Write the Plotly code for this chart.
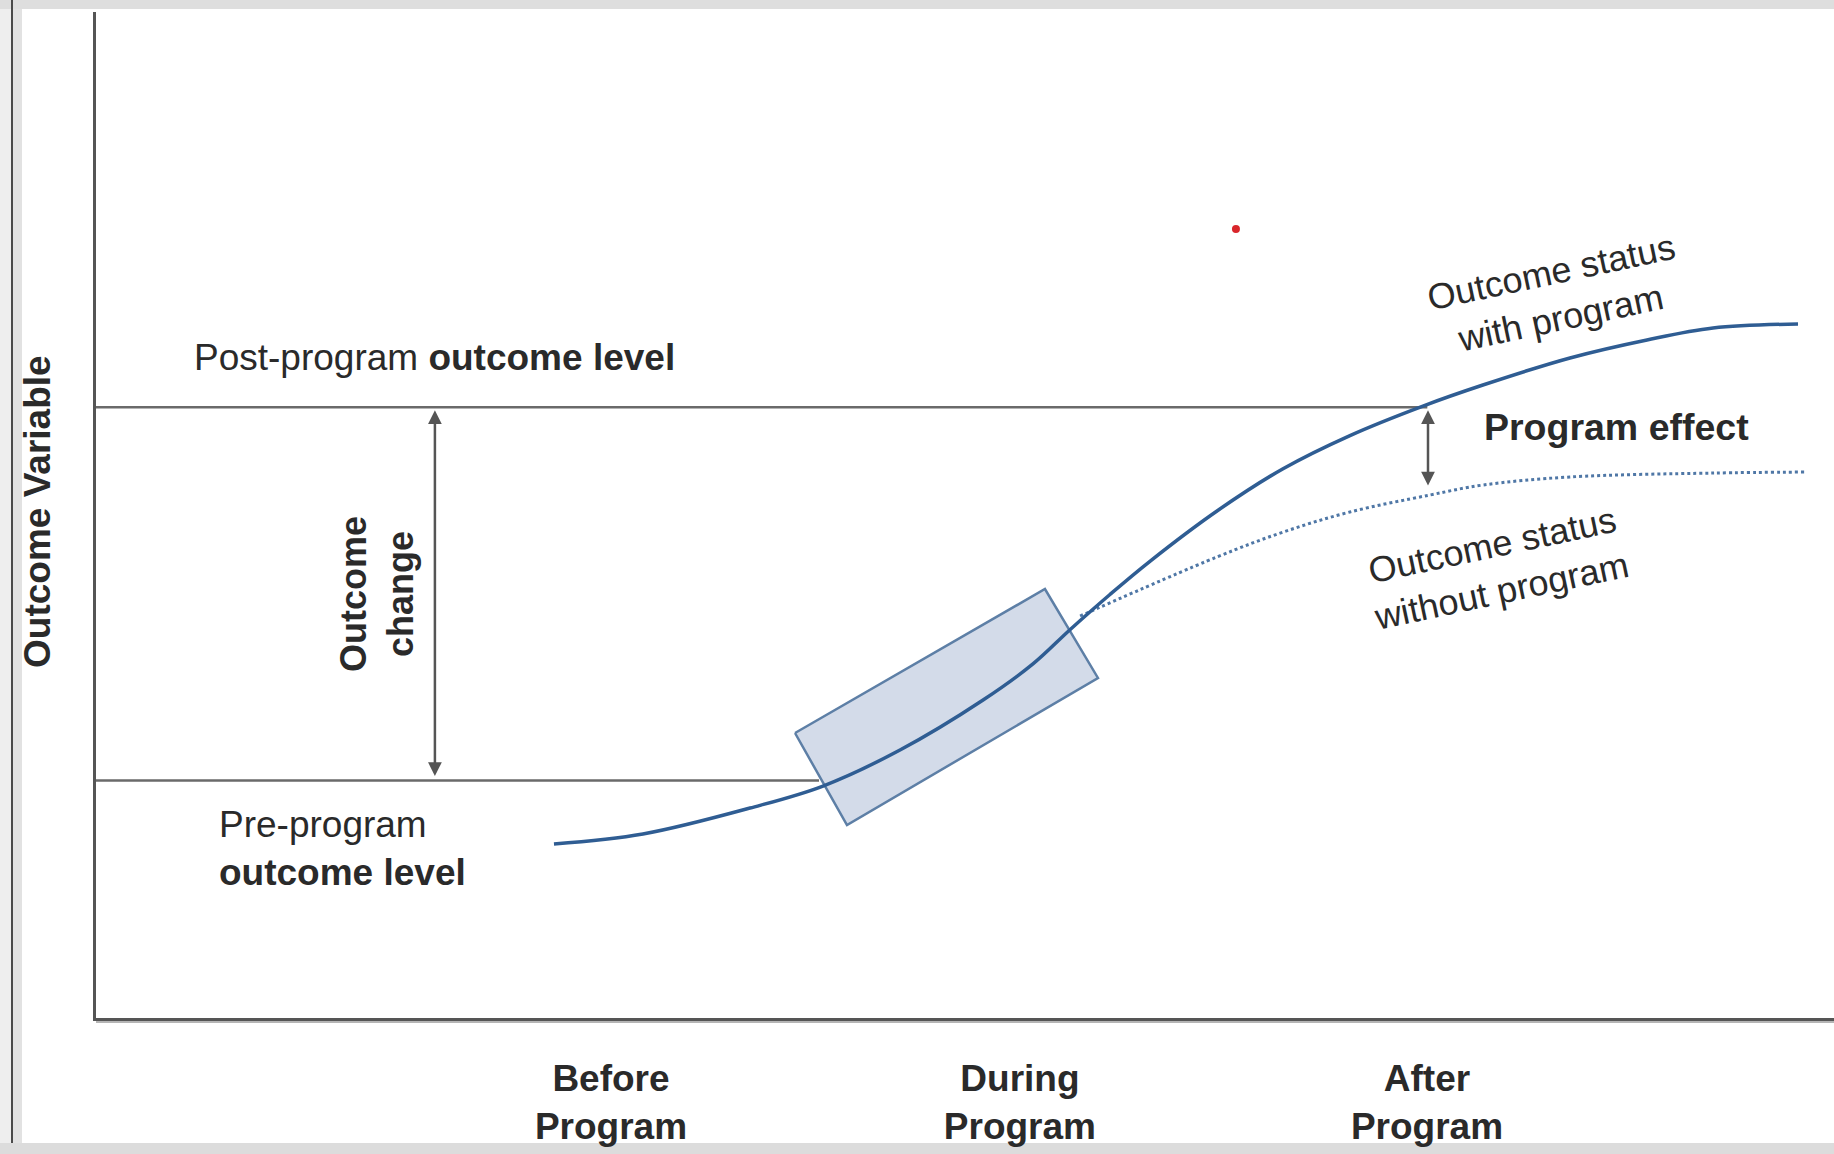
import plotly.graph_objects as go

# ---------------- data (x: time, 0-100 ; y: outcome, 0-100) ----------------
time_with = [26.35, 31.47, 37.63, 41.83, 46.26, 51.04, 53.91, 56.04, 58.34,
             60.64, 64.50, 68.30, 72.15, 76.35, 79.80, 84.81, 89.24, 93.04, 97.93]
outcome_with = [17.30, 18.29, 20.87, 23.06, 26.64, 31.61, 35.20, 38.60, 42.10,
                45.40, 50.40, 54.60, 57.90, 60.83, 62.92, 65.61, 67.40, 68.59, 68.99]

time_without = [56.62, 64.50, 68.30, 72.15, 76.76, 79.80, 84.81, 93.04, 98.33]
outcome_without = [39.96, 45.83, 48.30, 50.30, 51.99, 52.98, 53.78, 54.17, 54.27]

pre_level = 23.6
post_level = 60.7
pre_level_end = 41.6
post_level_end = 76.6

change_x = 19.5
effect_x = 76.64
effect_low = 52.49

box_x = [40.22, 54.60, 57.65, 43.21, 40.22]
box_y = [28.33, 42.64, 33.80, 19.18, 28.33]

marker_x = [65.59]
marker_y = [78.43]

phase_ticks = [29.63, 53.16, 76.58]
phase_labels = ["<b>Before</b><br><b>Program</b>",
                "<b>During</b><br><b>Program</b>",
                "<b>After</b><br><b>Program</b>"]

FONT = "Liberation Sans, Arial, Helvetica, sans-serif"
TXT = "#2a2a2a"
LINE_BLUE = "#2f5d93"

fig = go.Figure()

# level lines
fig.add_trace(go.Scatter(x=[0, post_level_end], y=[post_level, post_level], mode="lines",
                         line=dict(color="#6a6a6a", width=2.5), hoverinfo="skip"))
fig.add_trace(go.Scatter(x=[0, pre_level_end], y=[pre_level, pre_level], mode="lines",
                         line=dict(color="#6a6a6a", width=2.5), hoverinfo="skip"))

# program period box
fig.add_trace(go.Scatter(x=box_x, y=box_y, mode="lines", fill="toself",
                         fillcolor="#d3dbe9", line=dict(color="#5d7fa6", width=2.5),
                         hoverinfo="skip"))

# without program (dotted)
fig.add_trace(go.Scatter(x=time_without, y=outcome_without, mode="lines",
                         line=dict(color="#4f77a6", width=3, dash="dot", shape="spline"),
                         hoverinfo="skip"))
# with program
fig.add_trace(go.Scatter(x=time_with, y=outcome_with, mode="lines",
                         line=dict(color=LINE_BLUE, width=3.5, shape="spline", smoothing=1.0),
                         hoverinfo="skip"))

# red dot
fig.add_trace(go.Scatter(x=marker_x, y=marker_y, mode="markers",
                         marker=dict(color="#d9262b", size=8), hoverinfo="skip"))

annotations = []
# arrows
annotations.append(dict(x=change_x, y=post_level, ax=change_x, ay=pre_level,
                        xref="x", yref="y", axref="x", ayref="y", text="",
                        showarrow=True, arrowhead=2, arrowside="end+start",
                        arrowsize=1.1, arrowwidth=2.5, arrowcolor="#555555",
                        standoff=3, startstandoff=3))
annotations.append(dict(x=effect_x, y=post_level, ax=effect_x, ay=effect_low,
                        xref="x", yref="y", axref="x", ayref="y", text="",
                        showarrow=True, arrowhead=2, arrowside="end+start",
                        arrowsize=1.1, arrowwidth=2.5, arrowcolor="#555555",
                        standoff=3, startstandoff=3))

# texts
annotations += [
    dict(x=5.52, y=65.7, xref="x", yref="y", xanchor="left", yanchor="middle",
         text="Post-program <b>outcome level</b>", showarrow=False,
         font=dict(family=FONT, size=37, color=TXT)),
    dict(x=6.96, y=16.8, xref="x", yref="y", xanchor="left", yanchor="middle",
         text="Pre-program<br><b>outcome level</b>", showarrow=False, align="left",
         font=dict(family=FONT, size=37, color=TXT)),
    dict(x=16.17, y=42.15, xref="x", yref="y", xanchor="center", yanchor="middle",
         text="<b>Outcome</b><br><b>change</b>", showarrow=False, textangle=-90,
         font=dict(family=FONT, size=36, color=TXT)),
    dict(x=-0.0334, y=50.4, xref="paper", yref="y", xanchor="center", yanchor="middle",
         text="<b>Outcome Variable</b>", showarrow=False, textangle=-90,
         font=dict(family=FONT, size=37, color=TXT)),
    dict(x=79.75, y=58.75, xref="x", yref="y", xanchor="left", yanchor="middle",
         text="<b>Program effect</b>", showarrow=False,
         font=dict(family=FONT, size=37.5, color=TXT)),
    dict(x=84.0, y=71.87, xref="x", yref="y", xanchor="center", yanchor="middle",
         text="Outcome status<br>with program", showarrow=False, textangle=-12,
         font=dict(family=FONT, size=36, color=TXT)),
    dict(x=80.6, y=44.7, xref="x", yref="y", xanchor="center", yanchor="middle",
         text="Outcome status<br>without program", showarrow=False, textangle=-12,
         font=dict(family=FONT, size=36, color=TXT)),
]

# frame decorations (paper coords)
def px_x(p):
    return (p - 96) / 1738.0

def px_y(p):
    return (1018 - p) / 1006.0

shapes = [
    dict(type="rect", xref="paper", yref="paper", x0=px_x(0), x1=px_x(11),
         y0=px_y(1154), y1=px_y(0), fillcolor="#eeeeee", line=dict(width=0), layer="below"),
    dict(type="rect", xref="paper", yref="paper", x0=px_x(13), x1=px_x(22),
         y0=px_y(1143), y1=px_y(8), fillcolor="#e2e2e2", line=dict(width=0), layer="below"),
    dict(type="rect", xref="paper", yref="paper", x0=px_x(0), x1=px_x(1834),
         y0=px_y(9), y1=px_y(0), fillcolor="#dedede", line=dict(width=0), layer="below"),
    dict(type="rect", xref="paper", yref="paper", x0=px_x(0), x1=px_x(1834),
         y0=px_y(1154), y1=px_y(1143), fillcolor="#dcdcdc", line=dict(width=0), layer="below"),
    dict(type="line", xref="paper", yref="paper", x0=px_x(12), x1=px_x(12),
         y0=px_y(1143), y1=px_y(0), line=dict(color="#4a4a4a", width=2)),
    dict(type="line", xref="paper", yref="paper", x0=px_x(96), x1=px_x(1834),
         y0=px_y(1021.5), y1=px_y(1021.5), line=dict(color="#b5b5b5", width=3), layer="below"),
]

fig.update_layout(
    width=1834, height=1154,
    margin=dict(l=96, r=0, t=12, b=136),
    paper_bgcolor="white", plot_bgcolor="white",
    showlegend=False,
    annotations=annotations,
    shapes=shapes,
    xaxis=dict(range=[0, 100], showgrid=False, zeroline=False, showline=True,
               linecolor="#555555", linewidth=2.5,
               tickmode="array", tickvals=phase_ticks, ticktext=phase_labels,
               ticks="outside", ticklen=26, tickcolor="rgba(0,0,0,0)",
               tickfont=dict(family=FONT, size=37, color=TXT), fixedrange=True),
    yaxis=dict(range=[0, 100], showgrid=False, zeroline=False, showline=True,
               linecolor="#555555", linewidth=2.5, showticklabels=False, ticks="",
               fixedrange=True),
)

fig.write_html("out.html", config={"displayModeBar": False},
               post_script="document.body.style.margin='0px';document.body.style.overflow='hidden';")
